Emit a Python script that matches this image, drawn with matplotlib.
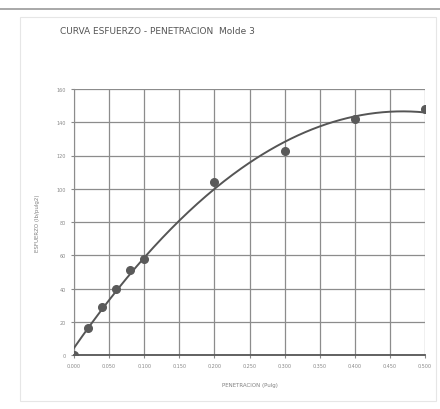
import numpy as np
import matplotlib
matplotlib.use('Agg')
import matplotlib.pyplot as plt
from matplotlib.patches import Rectangle

# penetracion (pulg) y esfuerzo
penetracion = [0.000, 0.020, 0.040, 0.060, 0.080, 0.100, 0.200, 0.300, 0.400, 0.500]
esfuerzo = [0, 16, 29, 40, 51, 58, 104, 123, 142, 148]
x_ticks = [0.000, 0.050, 0.100, 0.150, 0.200, 0.250, 0.300, 0.350, 0.400, 0.450, 0.500]
y_ticks = [0, 20, 40, 60, 80, 100, 120, 140, 160]

fig = plt.figure(figsize=(4.4, 4.1), dpi=100)
fig.patch.set_facecolor('white')

# marco de la hoja
fig.add_artist(plt.Line2D([0.0, 1.0], [0.975, 0.975], color='#9a9a9a', lw=1.2))
fig.add_artist(Rectangle((0.045, 0.02), 0.945, 0.935, fill=False,
                         edgecolor='#e6e6e6', lw=0.8))

ax = fig.add_axes([74/440, 1 - 356/410, (425-74)/440, (356-90)/410])

# linea de tendencia polinomica (orden 2), como en la hoja de calculo
coef = np.polyfit(penetracion, esfuerzo, 2)
xs = np.linspace(0, 0.5, 200)
ax.plot(xs, np.polyval(coef, xs), color='#555555', lw=1.4, zorder=3)
ax.plot(penetracion, esfuerzo, 'o', color='#5a5a5a', ms=5.5, zorder=4)

ax.set_xlim(0, 0.5)
ax.set_ylim(0, 160)
ax.set_xticks(x_ticks)
ax.set_xticklabels(['%.3f' % v for v in x_ticks])
ax.set_yticks(y_ticks)
ax.grid(True, color='#8c8c8c', lw=0.9)
for s in ['top', 'right']:
    ax.spines[s].set_visible(False)
ax.spines['left'].set_color('#8c8c8c')
ax.spines['bottom'].set_color('#555555')
ax.spines['bottom'].set_linewidth(1.3)
ax.tick_params(labelsize=3.5, colors='#888888', length=2, pad=4)

ax.set_xlabel('PENETRACION (Pulg)', fontsize=4, color='#808080', labelpad=10)
ax.set_ylabel('ESFUERZO (lb/pulg2)', fontsize=4, color='#808080', labelpad=12)

fig.text(60/440, 1 - 31/410, 'CURVA ESFUERZO - PENETRACION  Molde 3',
         fontsize=6.5, color='#555555', va='center')

fig.savefig('out.png', dpi=100)
